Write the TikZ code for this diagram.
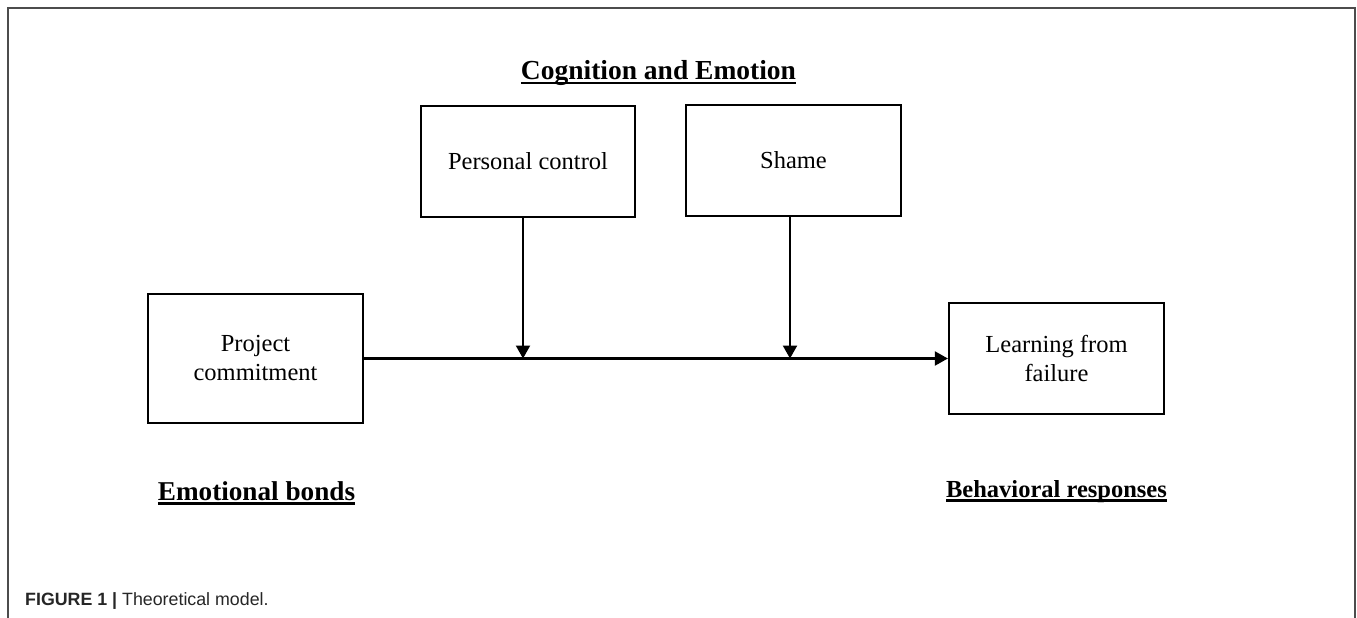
\documentclass[tikz,border=0pt]{standalone}
\usepackage{fontspec}
\setmainfont{Liberation Serif}
\newfontfamily\capfont{Liberation Sans}
\usetikzlibrary{arrows.meta}
\newcommand\myul[1]{\setbox0\hbox{#1}\rlap{\rule[-4.5pt]{\wd0}{2.2pt}}\box0}
\tikzset{
  box/.style={draw=black, line width=2.3pt, rectangle, align=center, inner sep=0pt,
    font=\fontsize{24.5}{29}\selectfont},
  arr/.style={line width=2.2pt, -{Triangle[length=13pt,width=14pt]}},
  head/.style={inner sep=0pt, anchor=base, font=\bfseries}
}
\begin{document}
\begin{tikzpicture}[x=1pt,y=-1pt]
\useasboundingbox (0,0) rectangle (1357,618);
\fill[white] (0,0) rectangle (1357,618);
% outer frame
\draw[black!70, line width=2pt] (8,625) -- (8,8) -- (1355,8) -- (1355,625);
% boxes
\node[box, minimum width=215pt, minimum height=129pt] (pc) at (255.5,358.5) {Project\\commitment};
\node[box, minimum width=214pt, minimum height=111pt] (pcon) at (528,161.5) {Personal control};
\node[box, minimum width=215pt, minimum height=111pt] (sh) at (793.5,160.5) {Shame};
\node[box, minimum width=215pt, minimum height=111pt] (lf) at (1056.5,358.5) {Learning from\\failure};
% connectors
\coordinate (m1) at (523,358.5);
\coordinate (m2) at (790,358.5);
\draw[arr] (pc.east) -- (lf.west);
\draw[arr] (pcon.south -| m1) -- (m1);
\draw[arr] (sh.south -| m2) -- (m2);
% headings
\node[head, font=\fontsize{27.5}{30}\selectfont\bfseries] (hce) at (658.5,80) {\myul{Cognition and Emotion}};
\node[head, font=\fontsize{27.2}{30}\selectfont\bfseries] (heb) at (256.5,500) {\myul{Emotional bonds}};
\node[head, font=\fontsize{24.5}{30}\selectfont\bfseries] (hbr) at (1056.5,497) {\myul{Behavioral responses}};
% caption
\node[inner sep=0pt, anchor=base west, text=black!85, font=\capfont\fontsize{17.8}{20}\selectfont] (cap) at (25,605) {\textbf{FIGURE 1 |} Theoretical model.};
\end{tikzpicture}
\end{document}
